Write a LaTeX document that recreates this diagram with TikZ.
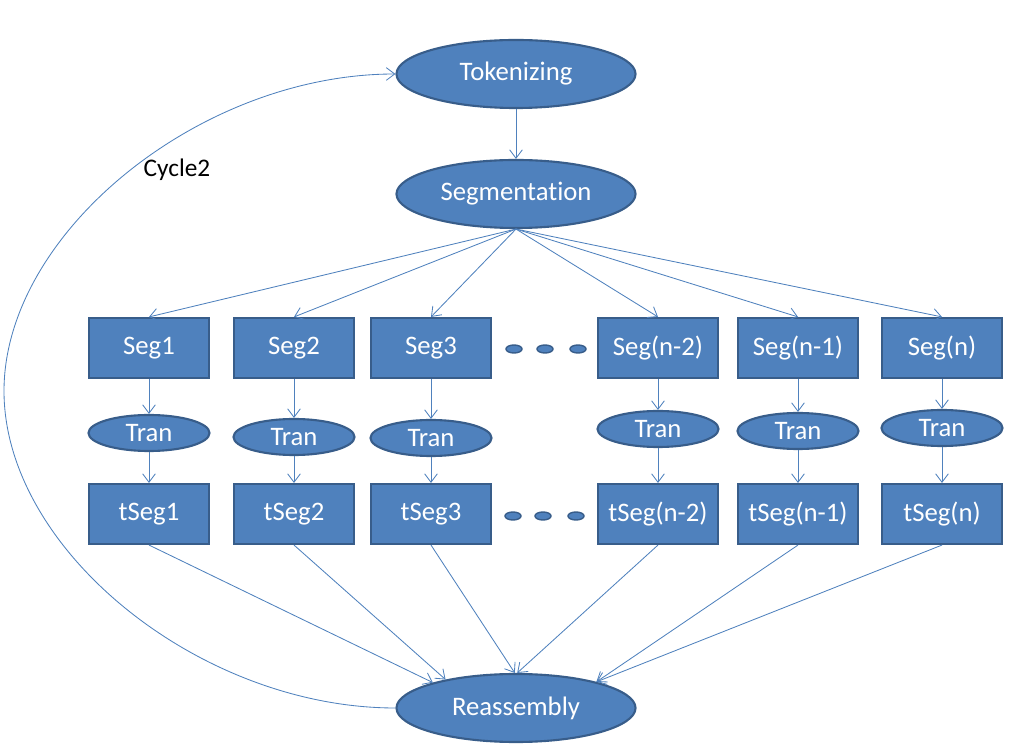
\documentclass[tikz,border=0pt]{standalone}
\usepackage{fontspec}
\setmainfont{Carlito}[Ligatures=NoCommon]
\usetikzlibrary{shapes.geometric,arrows.meta,positioning}
\definecolor{boxblue}{RGB}{79,129,189}
\definecolor{edgeblue}{RGB}{56,93,138}

\tikzset{
  stage/.style={ellipse, draw=edgeblue, line width=1.5pt, fill=boxblue, text=white,
    minimum width=5.975cm, minimum height=1.7cm, inner sep=0pt, font=\fontsize{19}{22}\selectfont},
  segbox/.style={rectangle, draw=edgeblue, line width=1.5pt, fill=boxblue, text=white,
    minimum width=3cm, minimum height=1.5cm, inner sep=0pt, font=\fontsize{19}{22}\selectfont},
  tranbox/.style={ellipse, draw=edgeblue, line width=1.5pt, fill=boxblue, text=white,
    minimum width=3.025cm, minimum height=0.9cm, inner sep=0pt, font=\fontsize{19}{22}\selectfont},
  gapdot/.style={ellipse, draw=edgeblue, line width=1pt, fill=boxblue,
    minimum width=0.4cm, minimum height=0.2cm, inner sep=0pt},
  link/.style={boxblue, line width=0.6pt, -{Straight Barb[length=6pt,width=9pt]}}
}

\begin{document}
\begin{tikzpicture}[x=0.025cm, y=-0.025cm]
    \useasboundingbox (0,0) rectangle (1014,753);

    % Main stages
    \node[stage] (tok) at (516,74) {Tokenizing};
    \node[stage] (seg) at (516,194) {Segmentation};
    \node[stage] (reas) at (516,708) {Reassembly};
    \draw[link] (tok) -- (seg);

    % Segments, translation and translated segments
    \foreach \n/\x/\lab/\ty/\ang in {1/149/1/433/163, 2/294/2/437/158, 3/431/3/438/92,
        n2/658/{(n-2)}/429/88, n1/798/{(n-1)}/431/18, n/942/{(n)}/428/18} {
        \node[segbox] (seg\n) at (\x,348) {Seg\lab};
        \node[tranbox] (tran\n) at (\x,\ty) {Tran};
        \node[segbox] (tseg\n) at (\x,514) {tSeg\lab};
        \draw[link] (seg.south) -- (seg\n.north);
        \draw[link] (seg\n) -- (tran\n);
        \draw[link] (tran\n) -- (tseg\n);
        \draw[link] (tseg\n.south) -- (reas.\ang);
    }

    % Gap dots
    \node[gapdot] (da1) at (514,349) {};
    \node[gapdot] (da2) at (545,349) {};
    \node[gapdot] (da3) at (578,349) {};
    \node[gapdot] (db1) at (513,516) {};
    \node[gapdot] (db2) at (543,516) {};
    \node[gapdot] (db3) at (576,516) {};

    % Cycle back
    \coordinate (turn) at (4,391);
    \draw[link] (reas.west) .. controls (200,708) and (4,550) .. (turn)
        .. controls (4,233) and (200,74) .. (tok.west);
    \node (cyc) at (177,170) {\fontsize{18}{21}\selectfont Cycle2};
\end{tikzpicture}
\end{document}
